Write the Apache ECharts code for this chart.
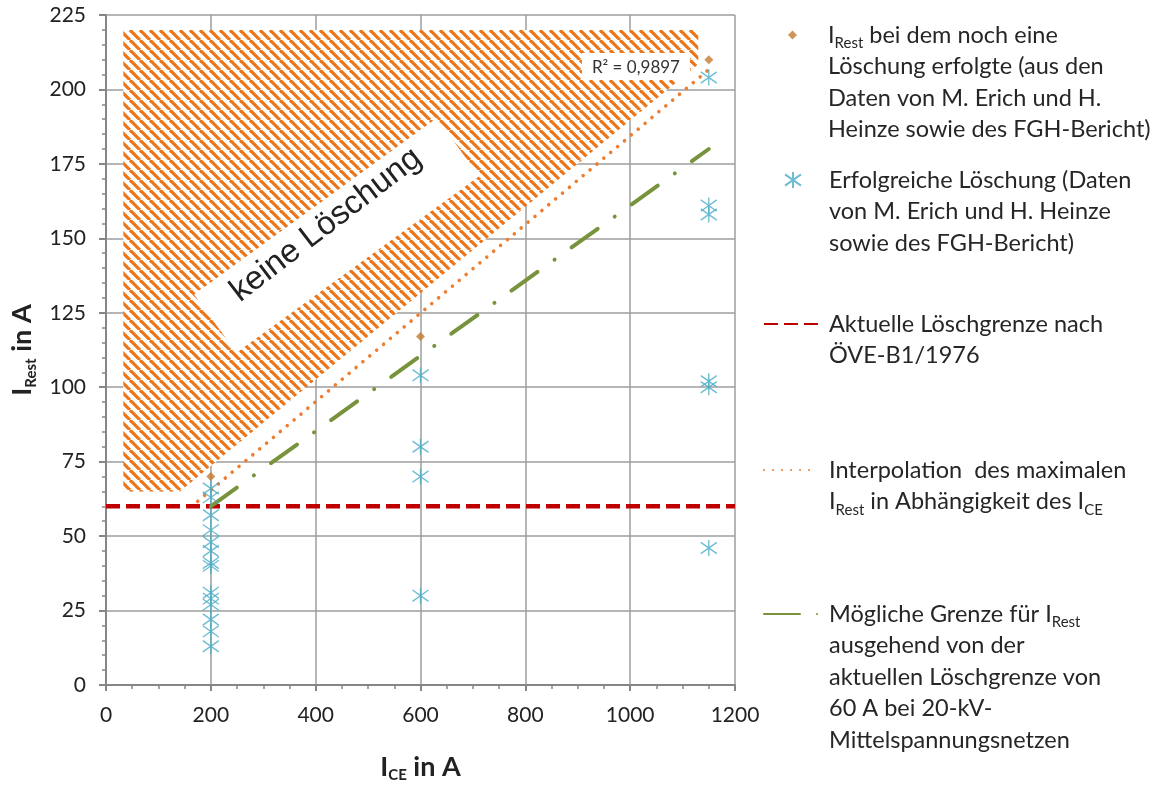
<!DOCTYPE html>
<html>
<head>
<meta charset="utf-8">
<script src="https://cdn.jsdelivr.net/npm/echarts@6.0.0/dist/echarts.min.js"></script>
<style>
    html, body { margin: 0; padding: 0; background: #fff; }
    #chart { width: 1155px; height: 785px; }
</style>
</head>
<body>
<div id="chart"></div>
<script>
// Messpunkte: I_Rest bei dem noch eine Löschung erfolgte
const grenzX = [200, 600, 1150];
const grenzY = [70, 117, 210];

// erfolgreiche Löschungen
const erfolgX = [200, 200, 200, 200, 200, 200, 200, 200, 200, 200, 200, 200, 200, 200,
                 600, 600, 600, 600,
                 1150, 1150, 1150, 1150, 1150, 1150];
const erfolgY = [66, 63, 57, 52, 48, 45, 41, 40, 31, 29, 27, 22, 18, 13,
                 104, 80, 70, 30,
                 204, 161, 158, 102, 100, 46];

// Linien
const oveX = [0, 1200];
const oveY = [60, 60];
const trendX = [175, 1150];
const trendY = [61.7, 206.7];
const moeglichX = [200, 1150];
const moeglichY = [60, 180];

// schraffierter Bereich "keine Löschung"
const hatchX = [33, 1130, 1130, 141, 33];
const hatchY = [220, 220, 208.5, 65, 65];
const bandAnchor = [440, 151];
const textAnchor = [420, 154.5];
const r2Anchor = [1011, 207.5];
const r2Text = 'R² = 0,9897';

const legendNames = ['grenz', 'erfolg', 'ove', 'trend', 'moeglich'];
const legendTexts = {
    grenz: 'I{s|Rest} bei dem noch eine\nLöschung erfolgte (aus den\nDaten von M. Erich und H.\nHeinze sowie des FGH-Bericht)',
    erfolg: 'Erfolgreiche Löschung (Daten\nvon M. Erich und H. Heinze\nsowie des FGH-Bericht)',
    ove: 'Aktuelle Löschgrenze nach\nÖVE-B1/1976',
    trend: 'Interpolation  des maximalen\nI{s|Rest} in Abhängigkeit des I{s|CE}',
    moeglich: 'Mögliche Grenze für I{s|Rest}\nausgehend von der\naktuellen Löschgrenze von\n60 A bei 20-kV-\nMittelspannungsnetzen'
};
const legendLines = [4, 3, 2, 2, 5];
const legendFirstY = [35, 180, 324, 470, 614];

const FONT = 'Lato';
const LH = 31.5;
const TEXT_X = 828;

// Schraffur-Muster
const hatchCanvas = document.createElement('canvas');
hatchCanvas.width = 10;
hatchCanvas.height = 10;
(function () {
    const g = hatchCanvas.getContext('2d');
    g.fillStyle = '#fff';
    g.fillRect(0, 0, 10, 10);
    g.strokeStyle = '#EC7419';
    g.lineWidth = 3.2;
    for (let k = -1; k <= 1; k++) {
        g.beginPath();
        g.moveTo(k * 10, 0);
        g.lineTo(k * 10 + 10, 10);
        g.stroke();
    }
})();

const asterisk = 'path://M8.5 0L8.5 17M0 2.5L17 14.5M0 14.5L17 2.5';

function toPairs(xs, ys) {
    return xs.map((x, i) => [x, ys[i]]);
}

// eine Legende je Eintrag, damit das Symbol auf Höhe der ersten Zeile steht
function legendFor(i, left, itemWidth, itemHeight, extra) {
    const n = legendLines[i];
    return Object.assign({
        data: [legendNames[i]],
        left: left,
        top: legendFirstY[i] - (n - 0.5) * LH,
        padding: 0,
        orient: 'vertical',
        selectedMode: false,
        itemWidth: itemWidth,
        itemHeight: itemHeight,
        formatter: name => legendTexts[name],
        textStyle: {
            fontFamily: FONT,
            fontSize: 23.5,
            lineHeight: LH,
            color: '#262626',
            padding: [(n - 1) * LH, 0, 0, TEXT_X - (left + itemWidth + 5)],
            rich: {
                s: { fontFamily: FONT, fontSize: 15, lineHeight: 20, verticalAlign: 'bottom', color: '#262626' }
            }
        }
    }, extra || {});
}

const chart = echarts.init(document.getElementById('chart'));
const deg = Math.PI / 180;
const noSymbol = { itemStyle: { opacity: 0 } };

const option = {
    animation: false,
    grid: { left: 106, right: 420, top: 15, bottom: 100, outerBoundsMode: 'none' },
    legend: [
        legendFor(0, 788, 9, 9),
        legendFor(1, 784, 16, 16),
        legendFor(2, 763, 54, 14, noSymbol),
        legendFor(3, 763, 54, 14, noSymbol),
        legendFor(4, 763, 57, 14, { itemStyle: { opacity: 0 }, lineStyle: { type: [36, 17, 0.01, 40] } })
    ],
    xAxis: {
        type: 'value',
        min: 0,
        max: 1200,
        interval: 200,
        name: 'I{s|CE} in A',
        nameLocation: 'middle',
        nameGap: 66,
        nameTextStyle: {
            fontFamily: FONT, fontWeight: 'bold', fontSize: 27, color: '#222', lineHeight: 32,
            rich: { s: { fontFamily: FONT, fontWeight: 'bold', fontSize: 15, lineHeight: 20, verticalAlign: 'bottom', color: '#222' } }
        },
        axisLine: { show: true, lineStyle: { color: '#868686', width: 2 } },
        axisTick: { show: true, length: 6, lineStyle: { color: '#868686', width: 2 } },
        minorTick: { show: true, splitNumber: 4, length: 4, lineStyle: { color: '#868686', width: 1.5 } },
        axisLabel: { fontFamily: FONT, fontSize: 21, color: '#222', margin: 20, formatter: v => String(v) },
        splitLine: { show: true, lineStyle: { color: '#9E9E9E', width: 1.5 } }
    },
    yAxis: {
        type: 'value',
        min: 0,
        max: 225,
        interval: 25,
        name: 'I{s|Rest} in A',
        nameLocation: 'middle',
        nameGap: 66,
        nameTextStyle: {
            fontFamily: FONT, fontWeight: 'bold', fontSize: 27, color: '#222', lineHeight: 32,
            rich: { s: { fontFamily: FONT, fontWeight: 'bold', fontSize: 15, lineHeight: 20, verticalAlign: 'bottom', color: '#222' } }
        },
        axisLine: { show: true, lineStyle: { color: '#868686', width: 2 } },
        axisTick: { show: true, length: 7, lineStyle: { color: '#868686', width: 2 } },
        minorTick: { show: true, splitNumber: 5, length: 4, lineStyle: { color: '#868686', width: 1.5 } },
        axisLabel: { fontFamily: FONT, fontSize: 21, color: '#222', margin: 20 },
        splitLine: { show: true, lineStyle: { color: '#9E9E9E', width: 1.5 } }
    },
    series: [
        {
            // Schraffur, Band mit Beschriftung, R²-Kasten
            type: 'custom',
            silent: true,
            z: 1,
            data: [[0, 0]],
            renderItem: function (params, api) {
                const pts = hatchX.map((x, i) => api.coord([x, hatchY[i]]));
                const b = api.coord(bandAnchor);
                const t = api.coord(textAnchor);
                const r = api.coord(r2Anchor);
                return {
                    type: 'group',
                    children: [
                        { type: 'polygon', shape: { points: pts }, style: { fill: { image: hatchCanvas, repeat: 'repeat' } } },
                        {
                            type: 'rect', x: b[0], y: b[1], rotation: 36 * deg,
                            shape: { x: -150, y: -36, width: 300, height: 72 },
                            style: { fill: '#fff' }
                        },
                        {
                            type: 'text', x: t[0], y: t[1], rotation: 37.5 * deg,
                            style: {
                                text: 'keine Löschung', align: 'center', verticalAlign: 'middle',
                                fontFamily: 'Liberation Sans', fontSize: 33, fill: '#222'
                            }
                        },
                        {
                            type: 'rect', x: r[0], y: r[1],
                            shape: { x: -54, y: -14, width: 108, height: 27 },
                            style: { fill: '#fff' }
                        },
                        {
                            type: 'text', x: r[0], y: r[1],
                            style: {
                                text: r2Text, align: 'center', verticalAlign: 'middle',
                                fontFamily: FONT, fontSize: 17, fill: '#333'
                            }
                        }
                    ]
                };
            }
        },
        {
            name: 'grenz',
            type: 'scatter',
            z: 4,
            symbol: 'diamond',
            symbolSize: 9,
            itemStyle: { color: '#C47A30' },
            data: toPairs(grenzX, grenzY)
        },
        {
            name: 'erfolg',
            type: 'scatter',
            z: 3,
            symbol: asterisk,
            symbolSize: 16,
            symbolKeepAspect: false,
            itemStyle: { color: '#4BACC6', borderColor: '#4BACC6', borderWidth: 1.4 },
            data: toPairs(erfolgX, erfolgY)
        },
        {
            name: 'ove',
            type: 'line',
            z: 3,
            symbol: 'none',
            showSymbol: false,
            color: '#C00000',
            lineStyle: { color: '#C00000', width: 4.5, type: [14, 6] },
            data: toPairs(oveX, oveY)
        },
        {
            name: 'trend',
            type: 'line',
            z: 3,
            symbol: 'none',
            showSymbol: false,
            color: '#ED7D31',
            lineStyle: { color: '#ED7D31', width: 3.6, type: [0.01, 9], cap: 'round' },
            data: toPairs(trendX, trendY)
        },
        {
            name: 'moeglich',
            type: 'line',
            z: 3,
            symbol: 'none',
            showSymbol: false,
            color: '#77933C',
            lineStyle: { color: '#77933C', width: 4, type: [32, 21, 0.01, 21], cap: 'round' },
            data: toPairs(moeglichX, moeglichY)
        }
    ]
};

chart.setOption(option);
</script>
</body>
</html>
